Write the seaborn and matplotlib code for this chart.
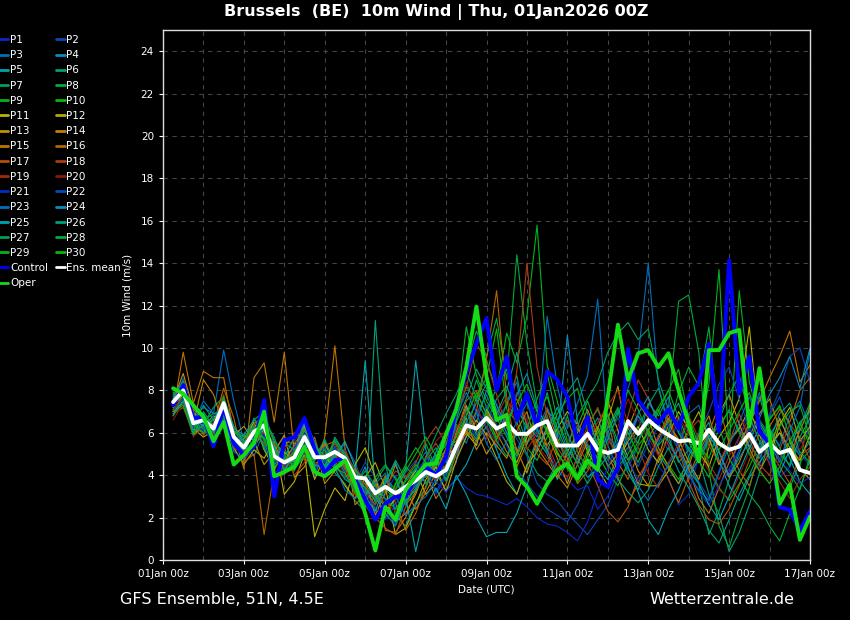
import numpy as np
import pandas as pd
import matplotlib
matplotlib.use("Agg")
import matplotlib.pyplot as plt
import matplotlib.dates as mdates
from matplotlib.lines import Line2D
import seaborn as sns

# ==========================================================
# DATA  (10m wind, m/s, 6-hourly from 01Jan 06z)
# ==========================================================

p1 = [7.2,8.6,6.8,6.1,5.9,7.0,5.2,4.6, 5.5,6.8,4.1,4.4,5.6,6.3,4.0,5.2, 4.6,5.3,3.4,2.9,2.2,3.1,4.0,2.8, 3.4,4.6,3.1,3.9,6.1,7.2,5.4,5.8, 7.4,5.9,4.8,6.6,7.1,5.3,4.2,3.8, 3.3,3.5,2.4,3.0,4.1,5.2,6.8,5.6, 4.4,3.9,2.6,3.1,4.9,6.2,5.1,4.0, 5.8,7.1,6.0,4.6,3.9,4.4,5.5,6.2]
p2 = [6.9,7.9,6.1,6.8,5.7,7.6,6.1,5.8, 6.3,5.7,5.3,4.1,4.5,5.2,5.6,4.3, 5.4,4.2,3.7,4.6,3.9,2.8,3.5,4.1, 4.7,3.6,4.4,5.1,4.8,5.9,7.1,6.2, 5.3,6.8,5.7,4.9,3.6,3.1,2.8,2.2, 1.7,1.2,1.9,2.6,3.8,4.4,5.3,4.7, 5.9,5.2,6.7,4.8,3.7,2.9,4.2,5.6, 6.3,5.1,4.4,6.8,7.7,6.3,5.0,4.5]
p3 = [7.8,8.3,6.7,7.2,6.9,9.9,7.5,5.6, 4.9,6.1,5.2,5.8,4.3,5.0,3.9,5.4, 4.8,5.5,4.6,3.3,2.6,3.8,2.9,3.2, 4.4,5.1,3.6,4.8,6.3,5.5,6.9,7.8, 6.6,7.3,8.4,5.5,6.1,7.2,6.0,4.9, 5.6,6.8,5.5,4.7,5.9,8.1,9.6,14.0, 8.3,6.1,5.2,6.9,7.3,5.8,4.6,3.9, 5.2,6.6,7.9,6.1,5.4,6.8,7.5,6.3]
p4 = [7.4,7.7,6.2,6.0,6.5,6.9,5.7,5.1, 6.6,7.0,5.5,4.2,5.3,6.1,5.2,4.4, 5.0,4.1,3.2,3.6,2.9,3.9,2.4,3.0, 3.5,4.0,4.9,3.8,4.6,7.2,6.5,8.0, 7.1,6.0,5.1,6.4,5.8,7.0,6.6,5.2, 4.6,5.9,6.7,5.4,4.3,6.2,5.5,7.4, 6.8,7.7,6.0,5.3,4.7,5.6,6.4,7.0, 6.1,5.4,4.8,5.9,6.6,5.7,4.9,5.6]
p5 = [7.6,8.4,7.0,6.3,5.8,7.1,6.2,5.9, 5.4,6.0,4.5,5.0,5.2,6.4,4.7,5.6, 4.4,5.2,4.1,9.4,3.3,2.5,3.6,4.3, 9.4,5.2,4.1,3.3,3.8,4.5,5.6,6.3, 5.2,4.0,3.1,4.4,5.7,5.0,3.8,4.6, 6.2,5.3,4.4,3.8,4.9,5.7,6.8,6.1, 5.0,4.3,3.6,4.9,5.8,6.5,4.7,3.5, 2.8,3.9,4.6,5.3,6.0,4.8,3.7,3.1]
p6 = [7.0,7.5,6.4,7.3,6.6,6.8,5.5,4.9, 6.2,5.4,4.7,5.3,4.2,5.5,5.1,4.6, 4.1,3.6,2.8,2.3,11.3,4.6,2.1,1.6, 2.7,3.4,4.6,5.2,5.8,7.1,5.9,6.5, 7.6,8.2,6.9,5.5,6.3,7.9,5.8,4.5, 3.9,4.8,5.7,6.9,5.2,4.1,3.3,4.6, 5.5,6.6,7.4,6.0,4.8,3.1,2.2,0.4, 1.3,2.6,4.1,5.6,6.9,7.4,6.2,5.7]
p7 = [7.3,7.8,6.0,6.4,7.2,7.7,6.3,5.5, 5.9,6.6,5.8,4.5,4.9,6.7,5.3,4.1, 5.7,5.0,4.3,3.1,3.7,4.4,3.9,2.6, 3.2,4.7,5.3,4.0,5.1,6.8,8.5,7.2, 6.0,7.4,8.7,6.2,5.6,6.8,5.1,4.3, 5.8,6.4,7.1,5.9,4.8,5.3,6.2,7.3, 8.1,6.5,5.4,4.2,3.6,1.2,2.3,3.8, 5.0,6.3,7.7,6.1,5.0,4.5,6.3,7.4]
p8 = [7.9,8.1,6.6,6.9,6.0,7.3,5.9,5.4, 6.4,6.1,4.6,5.6,5.5,6.0,4.4,5.0, 5.3,4.7,3.5,4.0,2.7,3.3,2.9,3.7, 4.2,5.5,4.3,5.8,7.4,9.1,10.8,9.6, 11.4,8.5,14.4,10.2,7.3,6.1,5.4,6.8, 5.1,4.3,5.6,6.2,7.0,5.5,4.6,5.8, 6.5,7.2,12.2,12.5,9.8,4.2,1.6,0.6, 2.1,3.4,5.2,6.7,7.2,6.4,5.1,4.6]
p9 = [7.1,7.6,6.3,6.2,5.6,7.5,6.0,5.0, 5.7,6.4,5.0,4.3,4.8,5.6,5.0,4.7, 4.9,4.4,3.8,3.4,3.0,3.9,3.3,4.4, 3.9,4.3,5.0,4.6,6.6,8.2,7.5,9.4, 8.0,10.7,9.3,11.5,15.8,9.2,7.5,5.6, 6.3,7.5,6.1,4.9,4.4,5.0,5.9,6.4, 7.1,5.8,4.6,5.2,6.0,8.3,13.7,5.2, 12.7,8.4,6.6,5.9,4.7,4.1,3.3,4.9]
p10 = [7.7,8.2,6.9,6.5,6.3,7.2,5.6,5.2, 6.0,5.8,4.4,4.8,5.0,5.9,4.6,4.5, 5.2,4.9,4.0,3.6,2.4,2.0,3.0,3.8, 4.5,3.9,4.7,5.5,6.4,5.9,7.7,8.6, 10.9,7.1,6.5,5.3,4.7,5.8,6.9,7.6, 8.1,6.2,5.0,4.1,3.5,4.6,5.4,6.0, 5.1,4.5,3.8,4.7,5.6,4.3,3.4,2.8, 3.6,4.4,5.5,6.6,7.3,5.8,4.4,7.4]
p11 = [7.0,7.4,5.9,6.3,6.8,6.5,5.3,4.5, 5.2,4.8,5.6,3.1,3.7,5.0,1.1,2.4, 3.4,2.8,4.5,5.3,3.9,2.3,2.9,3.5, 4.2,3.1,3.6,4.9,5.3,6.0,5.4,7.1, 6.3,5.5,4.6,5.8,6.7,5.4,6.2,7.0, 6.4,5.1,4.3,3.5,4.7,5.6,6.3,5.2, 4.6,5.9,7.0,6.2,5.1,4.4,5.8,6.5, 7.6,11.0,6.1,5.4,6.0,5.3,4.7,5.9]
p12 = [6.8,7.9,6.2,5.8,6.1,6.9,5.5,5.7, 6.5,5.2,4.3,5.1,4.6,5.4,3.8,4.9, 4.3,3.5,2.9,3.9,4.6,3.4,1.2,1.5, 2.6,3.8,4.4,3.2,4.7,5.8,6.6,5.9, 4.8,3.7,3.1,4.5,5.1,6.3,5.0,4.4, 3.8,5.0,6.2,7.5,6.1,4.8,3.6,3.5, 3.5,4.2,5.3,6.1,7.0,5.7,4.5,5.6, 6.2,7.1,5.9,4.8,6.4,7.2,5.6,6.3]
p13 = [7.5,8.8,7.1,6.7,5.5,6.6,5.9,6.3, 5.6,4.5,5.1,5.9,3.9,4.4,5.5,3.6, 4.2,4.6,3.3,2.7,3.6,2.4,1.8,2.2, 3.1,4.4,3.7,4.5,6.0,7.3,6.1,5.0, 5.7,6.6,5.2,4.1,5.6,6.0,4.8,3.6, 4.9,6.1,5.4,6.6,8.2,5.5,4.2,3.5, 4.8,6.4,5.7,4.6,3.8,5.3,6.9,7.8, 6.4,5.3,4.2,5.1,6.7,5.6,4.3,3.8]
p14 = [7.2,8.0,6.4,8.5,7.8,6.3,5.7,4.8, 5.3,6.2,5.4,4.7,5.4,6.3,4.8,5.5, 4.5,3.9,4.3,3.8,2.1,3.2,4.5,3.3, 2.4,3.2,4.1,5.3,5.6,6.7,5.2,6.0, 5.4,4.8,6.1,7.0,5.3,4.6,3.9,5.1, 6.0,7.1,5.8,4.4,5.0,6.2,7.4,6.7, 5.3,4.4,3.6,4.4,5.9,6.8,5.1,3.9, 4.6,5.8,6.9,7.6,6.2,5.0,6.1,7.2]
p15 = [7.0,9.8,7.4,8.9,8.6,8.6,6.0,4.3, 8.6,9.3,6.5,9.8,5.0,6.2,4.2,5.8, 10.1,5.3,2.6,3.1,3.8,1.4,1.3,2.0, 3.3,4.1,2.9,3.6,5.0,6.1,5.6,7.0, 6.0,5.1,4.4,5.5,6.8,5.2,4.0,3.4, 4.5,5.6,6.3,5.0,3.9,2.7,3.6,4.8, 5.7,6.7,5.4,4.3,2.9,2.2,3.4,4.6, 5.5,6.4,7.5,8.6,9.6,10.8,8.4,9.2]
p16 = [7.4,8.5,6.9,5.9,6.4,8.1,6.7,4.6, 5.0,1.2,4.2,5.3,6.0,5.7,4.9,5.4, 5.6,4.4,3.1,2.5,3.0,4.0,2.7,1.4, 2.2,3.5,4.8,4.2,5.5,6.0,7.0,9.5, 12.7,7.6,5.0,6.0,5.4,7.1,5.7,4.8, 3.6,4.2,5.0,6.6,4.6,3.8,5.0,6.2, 5.0,3.8,2.7,3.9,5.1,6.0,7.3,5.5, 4.2,3.5,5.0,6.3,7.1,6.5,8.0,8.6]
p17 = [6.9,7.2,6.0,6.6,5.8,7.0,5.4,5.1, 6.1,5.5,4.9,4.0,5.4,4.7,5.8,4.1, 5.0,4.3,3.6,2.9,2.0,1.5,1.2,2.5, 3.7,4.9,5.5,4.7,5.9,7.5,8.0,6.8, 5.8,6.9,7.6,6.4,5.0,4.5,5.9,6.6, 5.4,4.6,3.5,2.3,1.8,2.5,3.9,4.7, 5.8,6.9,5.2,3.7,2.6,1.9,1.7,2.4, 3.5,4.7,6.0,5.2,4.4,3.6,4.9,5.3]
p18 = [7.3,8.0,6.6,6.0,6.2,7.8,5.3,5.0, 6.4,6.9,5.5,4.9,4.0,4.6,5.2,4.8, 5.5,4.8,3.9,3.2,2.6,3.4,4.2,3.9, 4.6,5.6,6.3,5.5,7.0,8.1,10.2,9.4, 7.8,6.2,8.9,14.0,9.1,6.8,5.3,4.6, 5.2,6.3,7.2,5.8,4.7,6.8,8.5,7.6, 6.5,5.4,4.8,6.1,6.6,5.4,4.6,5.5, 6.9,5.7,4.5,4.0,5.2,6.4,5.8,4.7]
p19 = [7.1,7.7,6.3,6.8,5.9,6.9,6.2,5.6, 5.8,6.0,5.1,4.4,5.1,5.3,4.3,5.1, 4.7,5.2,4.1,3.5,2.9,2.6,3.4,4.0, 3.6,4.2,3.8,5.0,6.2,7.0,6.4,5.7, 6.8,7.7,6.3,5.2,6.0,5.5,4.4,3.9, 4.8,5.7,6.5,7.3,8.0,6.4,5.3,4.1, 3.4,4.6,5.5,6.8,5.7,4.5,3.8,4.9, 5.8,6.7,5.6,4.5,3.7,2.9,3.8,4.4]
p20 = [6.6,7.4,5.8,6.3,6.5,7.3,5.6,5.3, 6.2,6.5,4.8,5.2,5.7,5.0,4.6,4.2, 4.8,4.0,4.4,3.7,3.2,2.7,2.3,3.1, 4.0,4.7,5.6,6.1,6.9,8.4,7.2,6.3, 5.5,6.7,7.9,6.6,5.4,4.8,4.3,5.6, 6.4,5.5,4.6,5.4,6.3,7.6,6.6,5.8, 4.9,5.7,6.8,5.9,5.0,4.2,3.3,2.9, 4.0,5.1,4.3,3.6,4.8,5.9,5.2,6.1]
p21 = [7.5,7.9,6.2,6.5,6.4,7.0,5.9,5.2, 6.1,5.9,5.0,4.5,5.3,6.0,5.1,4.6, 5.3,4.5,3.7,3.1,2.5,1.9,2.6,3.4, 4.1,4.8,3.7,3.2,3.9,3.4,3.1,3.0, 2.8,2.6,2.9,2.5,2.0,1.7,1.6,1.3, 0.9,1.8,3.2,4.4,5.6,4.8,3.7,4.5, 5.6,6.4,5.3,4.1,3.2,2.6,3.5,4.3, 5.2,6.1,6.6,5.5,4.7,4.2,3.6,3.9]
p22 = [7.0,7.6,6.5,6.1,6.8,7.2,6.0,5.4, 5.8,6.2,4.6,4.9,4.7,5.5,4.3,5.0, 4.6,3.9,3.3,2.9,3.4,2.4,1.7,2.9, 3.6,4.3,3.2,4.1,5.1,6.6,5.8,7.3, 6.4,5.4,4.3,3.6,3.0,2.4,2.1,1.8, 2.6,3.7,4.9,5.8,6.7,5.6,4.4,5.5, 6.3,7.4,6.2,5.1,6.0,7.0,8.3,9.1, 7.6,6.2,5.3,6.9,8.0,9.6,10.0,8.4]
p23 = [7.7,8.5,6.4,7.5,6.9,7.1,5.1,4.8, 5.6,6.6,5.7,4.8,4.4,5.1,4.9,5.3, 4.4,3.3,2.9,3.2,3.6,4.1,3.0,2.1, 2.6,3.0,3.8,4.4,6.8,7.9,7.0,5.5, 4.7,5.6,6.5,7.4,6.0,11.5,8.2,6.2, 7.4,8.7,12.3,5.9,5.2,4.3,3.5,2.8, 3.6,4.5,5.3,4.0,3.3,2.8,4.1,5.4, 6.5,7.7,6.4,5.5,4.6,6.1,7.2,9.9]
p24 = [7.2,8.2,6.0,6.4,6.0,6.6,5.4,5.9, 6.6,6.3,5.4,4.2,5.0,6.5,5.4,4.9, 5.1,4.6,3.4,4.4,3.0,2.2,1.6,2.8, 3.3,4.0,5.1,6.0,5.3,6.5,7.4,8.3, 7.3,6.3,7.8,8.8,7.1,6.4,5.8,10.6, 6.5,5.4,4.8,6.0,7.1,5.9,6.9,7.7, 6.4,5.6,4.7,3.9,4.8,5.9,5.1,4.0, 4.8,5.6,6.7,7.8,8.6,9.6,8.1,10.0]
p25 = [7.6,8.0,6.7,6.3,6.6,7.4,6.3,5.6, 5.7,6.2,5.2,4.6,4.7,5.9,4.5,4.3, 4.9,5.6,4.4,3.0,2.3,3.6,4.6,3.0, 0.4,2.5,3.4,2.4,4.0,3.1,2.0,1.1, 1.3,1.3,2.2,3.5,5.3,6.1,7.2,6.0, 4.8,3.9,4.3,4.9,5.5,4.4,3.2,1.9, 1.2,2.4,3.3,4.5,3.6,2.6,1.9,3.0, 4.2,5.3,6.2,5.0,4.1,5.2,6.5,7.0]
p26 = [6.8,7.5,6.1,7.0,6.3,6.7,5.7,4.9, 6.3,5.3,4.4,4.8,5.8,6.6,5.6,4.4, 5.8,5.0,4.0,3.4,2.8,3.7,4.7,3.8, 4.3,3.6,4.2,4.8,6.5,7.6,9.0,8.1, 6.9,8.0,9.8,7.5,6.2,5.1,6.5,7.9, 8.6,6.9,5.3,4.5,3.8,3.2,2.7,3.3, 4.4,5.3,4.2,3.4,2.5,1.4,0.8,1.9, 3.1,4.0,5.1,6.2,5.3,4.4,5.8,6.7]
p27 = [7.4,7.7,6.5,6.2,5.7,7.6,6.1,5.5, 6.7,5.6,4.7,5.5,5.2,5.7,4.8,5.7, 4.5,3.8,3.5,4.2,3.5,2.9,2.4,3.1, 3.7,4.8,5.9,6.9,7.8,8.9,7.6,6.6, 5.6,4.9,6.0,5.0,4.1,3.7,4.6,5.3, 6.8,7.6,8.4,9.8,10.7,11.2,10.4,10.9, 8.5,7.1,6.0,5.2,4.6,5.8,6.6,7.8, 8.7,6.8,5.6,4.8,4.0,3.4,4.6,5.2]
p28 = [7.8,8.4,6.8,6.6,6.9,7.0,5.8,5.0, 5.5,6.5,5.3,4.2,4.6,6.2,5.0,4.8, 5.6,4.9,3.6,3.0,3.9,4.5,3.8,2.7, 3.4,4.2,4.8,3.7,5.2,6.3,5.7,7.0, 8.1,9.0,7.2,6.2,7.6,8.8,6.6,5.5, 4.5,3.6,4.4,5.7,6.9,8.0,7.1,5.9, 5.4,6.0,7.9,9.1,8.2,11.0,6.3,4.8, 3.9,3.1,2.5,1.6,0.9,2.2,3.4,4.7]
p29 = [7.0,7.3,5.9,6.9,6.1,7.7,5.6,5.5, 6.0,6.8,5.6,5.0,4.3,4.9,4.7,5.2, 4.3,4.1,3.2,2.6,1.9,2.7,3.3,4.2, 5.0,5.8,4.9,5.4,6.9,11.0,8.7,7.5, 6.7,5.8,4.9,5.9,6.9,7.7,6.2,5.1, 4.0,5.2,6.0,6.8,5.6,4.7,5.6,6.5, 7.2,8.0,6.7,5.6,4.7,3.9,5.2,6.1, 7.0,7.9,6.5,5.7,6.3,7.0,7.3,5.8]
p30 = [7.3,8.1,6.4,6.0,6.7,6.8,6.1,5.8, 6.2,5.7,4.9,4.7,5.1,5.8,5.3,4.9, 5.1,4.7,4.2,3.8,3.1,2.5,3.6,4.5, 5.3,4.6,4.0,4.9,5.8,6.8,7.9,6.9, 5.7,6.5,7.4,8.3,7.0,6.0,5.1,4.3, 3.7,4.5,5.5,6.3,7.2,6.0,5.0,6.1, 7.0,8.0,9.0,6.7,5.4,4.8,6.2,7.1, 6.0,5.0,4.2,3.6,4.4,5.6,6.5,5.4]

control = [7.3,8.25,6.7,6.75,5.35,7.25,5.5,4.95, 5.35,7.55,3.0,5.65,5.8,6.7,5.2,4.1, 4.7,4.8,3.8,2.85,1.9,2.65,3.0,3.0, 3.9,4.4,4.0,4.85,7.2,8.8,10.2,11.4, 8.0,9.6,6.6,7.85,6.3,8.9,8.5,7.7, 5.5,6.75,3.8,3.45,4.4,9.95,7.55,6.9, 6.45,7.1,6.2,7.7,8.35,10.2,6.05,14.15, 7.85,9.6,6.05,5.5,2.5,2.35,1.4,2.3]
oper = [8.1,7.85,7.3,6.75,5.6,6.5,4.5,4.95, 5.5,7.0,3.95,4.15,4.4,5.35,4.15,3.95, 4.3,4.7,3.6,2.2,0.45,2.5,1.9,3.3, 3.95,4.5,4.55,5.95,7.1,9.1,11.95,8.65, 6.6,6.85,3.95,3.45,2.65,3.6,4.25,4.55, 3.85,4.7,4.25,7.7,11.1,8.5,9.75,9.9, 9.1,9.75,8.0,6.45,4.65,9.9,9.9,10.7, 10.85,6.3,9.05,5.8,2.65,3.55,0.95,2.05]
ens_mean = [7.45,8.0,6.45,6.6,6.2,7.4,5.8,5.3, 6.05,6.35,4.9,4.6,4.85,5.8,4.85,4.85, 5.1,4.8,3.9,3.85,3.15,3.45,3.15,3.45, 3.75,4.15,3.95,4.25,5.35,6.35,6.2,6.7, 6.2,6.45,5.95,5.95,6.35,6.55,5.4,5.4, 5.4,5.95,5.2,5.05,5.2,6.55,5.95,6.6, 6.2,5.9,5.6,5.65,5.5,6.15,5.5,5.2, 5.35,5.95,5.1,5.5,5.05,5.2,4.25,4.1]

members = [p1, p2, p3, p4, p5, p6, p7, p8, p9, p10,
           p11, p12, p13, p14, p15, p16, p17, p18, p19, p20,
           p21, p22, p23, p24, p25, p26, p27, p28, p29, p30]
member_names = [f"P{i}" for i in range(1, 31)]

base_colors = ["#0a28c8", "#0a46b4", "#006ebe", "#0a8cbe", "#00a5af",
               "#00a078", "#00a05a", "#00aa3c", "#00b41e", "#00b90a",
               "#b9b400", "#b4aa00", "#be9100", "#be8200", "#be7300",
               "#b46400", "#b4500a", "#aa3c14", "#a02814", "#8c1414"]
member_colors = base_colors + base_colors[:10]

times = pd.date_range("2026-01-01 06:00", periods=64, freq="6h")

# ==========================================================
# LONG FORMAT TABLE
# ==========================================================

df = pd.DataFrame({
    "time": np.tile(times, len(members)),
    "wind": np.concatenate(members),
    "member": np.repeat(member_names, len(times)),
})

# ==========================================================
# PLOT
# ==========================================================

sns.set_theme(style="dark")
plt.rcParams["font.family"] = ["DejaVu Sans"]

fig = plt.figure(figsize=(8.5, 6.2), dpi=100, facecolor="black")
ax = fig.add_axes([163/850, 60/620, 647/850, 530/620])
ax.set_facecolor("black")

sns.lineplot(data=df, x="time", y="wind", hue="member",
             palette=dict(zip(member_names, member_colors)),
             linewidth=0.8, legend=False, ax=ax)

ax.plot(times, control, color="#0000ff", lw=2.8)
ax.plot(times, ens_mean, color="white", lw=2.8)
ax.plot(times, oper, color="#14dc14", lw=2.8)

ax.set_xlim(pd.Timestamp("2026-01-01 00:00"), pd.Timestamp("2026-01-17 00:00"))
ax.set_ylim(0, 25)
ax.set_yticks(range(0, 25, 2))

ax.xaxis.set_major_locator(mdates.DayLocator(interval=2))
ax.xaxis.set_minor_locator(mdates.DayLocator())
ax.xaxis.set_major_formatter(mdates.DateFormatter("%d%b %Hz"))

ax.grid(which="both", axis="x", color="#444444", linestyle=(0, (4, 4)), linewidth=0.8)
ax.grid(which="major", axis="y", color="#444444", linestyle=(0, (4, 4)), linewidth=0.8)
ax.set_axisbelow(True)

ax.tick_params(axis="both", which="major", colors="white", labelsize=7.5,
               length=3, width=0.8, bottom=True, left=True)
ax.tick_params(axis="x", which="minor", bottom=False)
for s in ax.spines.values():
    s.set_color("#dddddd")
    s.set_linewidth(1.0)

ax.set_xlabel("Date (UTC)", color="white", fontsize=7.5, labelpad=4)
ax.set_ylabel("10m Wind (m/s)", color="white", fontsize=7.5, labelpad=6)

fig.text(436/850, 1 - 12/620, "Brussels  (BE)  10m Wind | Thu, 01Jan2026 00Z",
         color="white", fontsize=11.5, fontweight="bold", ha="center", va="center")
fig.text(120/850, 21/620, "GFS Ensemble, 51N, 4.5E", color="white",
         fontsize=11.5, ha="left", va="center")
fig.text(794/850, 21/620, "Wetterzentrale.de", color="white",
         fontsize=11.5, ha="right", va="center")

# ==========================================================
# LEGEND (row-major, 2 columns)
# ==========================================================

col1, col2 = [], []
for i in range(0, 30, 2):
    col1.append((Line2D([], [], color=member_colors[i], lw=2), member_names[i]))
    col2.append((Line2D([], [], color=member_colors[i + 1], lw=2), member_names[i + 1]))
col1.append((Line2D([], [], color="#0000ff", lw=2), "Control"))
col2.append((Line2D([], [], color="white", lw=2), "Ens. mean"))
col1.append((Line2D([], [], color="#14dc14", lw=2), "Oper"))
entries = col1 + col2

fig.legend([h for h, _ in entries], [l for _, l in entries],
           loc="upper left", bbox_to_anchor=(0, 1 - 35/620), ncol=2,
           frameon=False, fontsize=7.5, labelcolor="white",
           handlelength=0.8, handletextpad=0.15, columnspacing=0.8,
           labelspacing=0.5, borderpad=0, borderaxespad=0)

fig.savefig("out.png", dpi=100, facecolor="black")
